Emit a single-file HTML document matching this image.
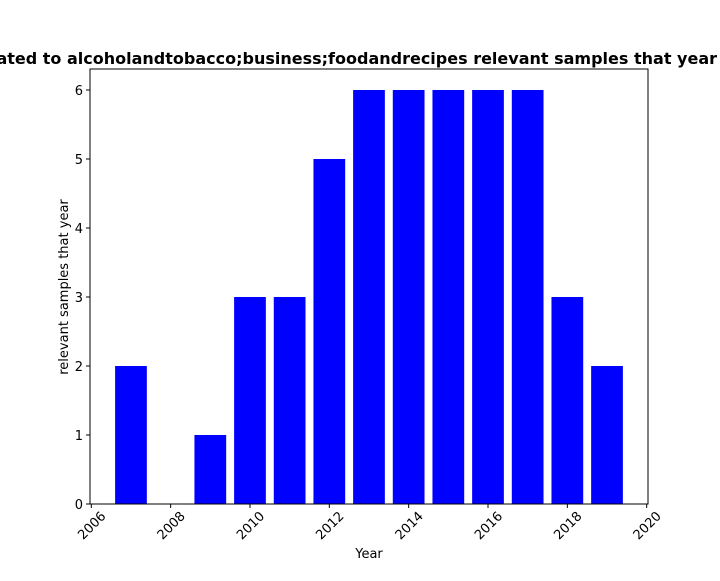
<!DOCTYPE html>
<html><head><meta charset="utf-8"><style>
body{margin:0;background:#fff;width:720px;height:576px;overflow:hidden}
svg text{font-family:"DejaVu Sans","Liberation Sans",sans-serif;fill:#000}
</style></head><body>
<svg id="chart" width="720" height="576" xmlns="http://www.w3.org/2000/svg">
<text x="717" y="64" text-anchor="end" font-size="16" font-weight="bold">Articles related to alcoholandtobacco;business;foodandrecipes relevant samples that year</text>
<g id="bars"></g>
<g id="xticks"></g>
<g id="yticks"></g>
<rect x="90" y="69" width="558" height="435" fill="none" stroke="#000" stroke-width="1"/>
<text x="369" y="558" text-anchor="middle" font-size="13">Year</text>
<text transform="translate(68,287) rotate(-90)" text-anchor="middle" font-size="13">relevant samples that year</text>
</svg>
<script>
const years=[2007,2008,2009,2010,2011,2012,2013,2014,2015,2016,2017,2018,2019];
const counts=[2,0,1,3,3,5,6,6,6,6,6,3,2];
const xTicks=[2006,2008,2010,2012,2014,2016,2018,2020];
const yTicks=[0,1,2,3,4,5,6];
const NS="http://www.w3.org/2000/svg";
const x=v=>91.3+(v-2006)*39.67;
const y=v=>504-v*69;
const bars=document.getElementById('bars');
years.forEach((yr,i)=>{
  const r=document.createElementNS(NS,'rect');
  
  
  r.setAttribute('x',x(yr-0.4));r.setAttribute('width',0.8*39.67);
  r.setAttribute('y',y(counts[i]));r.setAttribute('height',y(0)-y(counts[i]));
  r.setAttribute('fill','#0000ff');
  bars.appendChild(r);
});
const xg=document.getElementById('xticks');
xTicks.forEach(t=>{
  const l=document.createElementNS(NS,'line');
  
  
  l.setAttribute('x1',x(t));l.setAttribute('x2',x(t));l.setAttribute('y1',504);l.setAttribute('y2',508);l.setAttribute('stroke','#000');
  xg.appendChild(l);
  const tx=document.createElementNS(NS,'text');
  
  
  tx.setAttribute('font-size','13');tx.setAttribute('text-anchor','middle');
  tx.setAttribute('transform','translate('+x(t)+',525) rotate(-45)');
  tx.setAttribute('y','5');
  tx.textContent=t;xg.appendChild(tx);
});
const yg=document.getElementById('yticks');
yTicks.forEach(t=>{
  const l=document.createElementNS(NS,'line');
  
  
  l.setAttribute('x1',86);l.setAttribute('x2',90);l.setAttribute('y1',y(t));l.setAttribute('y2',y(t));l.setAttribute('stroke','#000');
  yg.appendChild(l);
  const tx=document.createElementNS(NS,'text');
  
  
  tx.setAttribute('font-size','13');tx.setAttribute('text-anchor','end');
  tx.setAttribute('x',83);tx.setAttribute('y',y(t)+5);
  tx.textContent=t;yg.appendChild(tx);
});
</script>
</body></html>
